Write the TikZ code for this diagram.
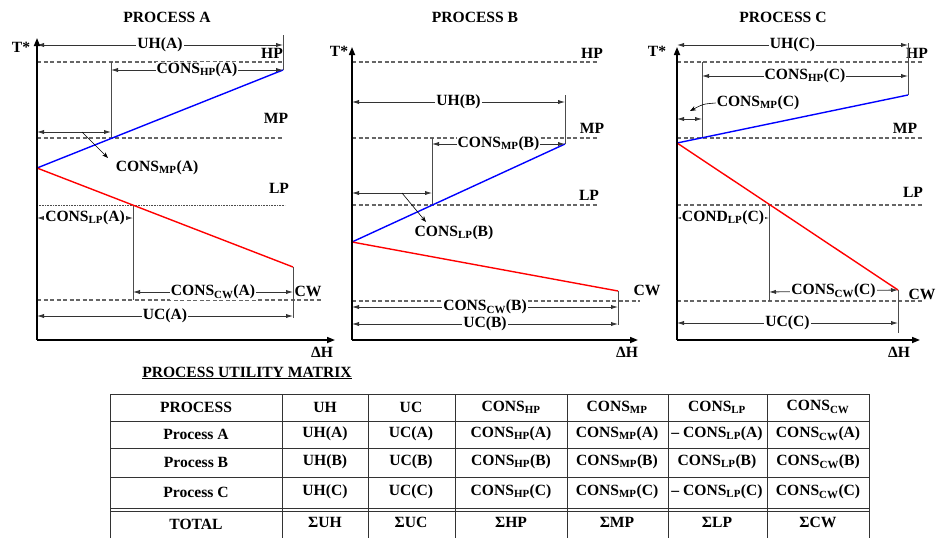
\documentclass[tikz,border=0pt]{standalone}
\usepackage{fontspec}
\setmainfont{Liberation Serif}
\usetikzlibrary{arrows.meta,positioning,calc}
\newcommand{\lv}[1]{\textsubscript{#1}}
\tikzset{
  tag/.style={font=\bfseries\fontsize{15.6}{17}\selectfont, inner sep=1pt},
  dimlabel/.style={tag, fill=white, inner sep=1pt},
  axisline/.style={-{Triangle[length=8pt,width=6pt]}, line width=1.6pt},
  levelline/.style={draw=black!60, line width=1.1pt, dash pattern=on 4pt off 2.5pt},
  lpline/.style={draw=black!70, line width=0.6pt, densely dotted},
  hotline/.style={draw=blue, line width=1.4pt},
  coldline/.style={draw=red, line width=1.4pt},
  guideline/.style={draw=black!70, line width=0.9pt},
  dimarrow/.style={{Latex[length=7pt,width=4.2pt]}-{Latex[length=7pt,width=4.2pt]}, draw=black!80, line width=0.8pt},
  pointer/.style={-{Stealth[length=6pt,width=4.5pt]}, line width=0.6pt},
  gridline/.style={draw=black!80, line width=0.7pt}
}

\begin{document}
\begin{tikzpicture}[x=1pt,y=-1pt]
  \useasboundingbox (0,0) rectangle (936,538);

  % ---- process A ----
  \node[tag] (titleA) at (167,17) {PROCESS A};
  \coordinate (a0) at (37,340);
  \coordinate (aTop) at (37,38);
  \coordinate (aEnd) at (335,340);
  \coordinate (aHot) at (283,70);
  \coordinate (aCold) at (293,267);
  \coordinate (aPinch) at (37,168);
  \draw[levelline] (37,62) coordinate (aHPl) -- (283,62) coordinate (aHPr);
  \draw[levelline] (37,138) coordinate (aMPl) -- (283,138) coordinate (aMPr);
  \draw[lpline] (37,205) coordinate (aLPl) -- (285,205) coordinate (aLPr);
  \draw[levelline] (37,300) coordinate (aCWl) -- (322,300) coordinate (aCWr);
  \node[tag] (aHP) at (272,53) {HP};
  \node[tag] (aMP) at (276,118) {MP};
  \node[tag] (aLP) at (279,188) {LP};
  \draw[guideline] (283,35) coordinate (aV1t) -- (aHot);
  \draw[guideline] (111,62) coordinate (aV2t) -- (111,138) coordinate (aV2b);
  \draw[guideline] (133,205) coordinate (aV3t) -- (133,300) coordinate (aV3b);
  \draw[guideline] (aCold) -- (293,318) coordinate (aV4b);
  \draw[hotline] (aPinch) -- (aHot);
  \draw[coldline] (aPinch) -- (aCold);
  \draw[dimarrow] (37,45) coordinate (aUHl) -- node[dimlabel] (aUH) {UH(A)} (283,45) coordinate (aUHr);
  \draw[dimarrow] (111,70) coordinate (aHPa) -- node[dimlabel] (aConsHP) {CONS\lv{HP}(A)} (aHot);
  \draw[dimarrow] (37,132) coordinate (aMPa) -- (111,132) coordinate (aMPb);
  \node[tag] (aConsMP) at (157,168) {CONS\lv{MP}(A)};
  \draw[pointer] (82,132) coordinate (aPt) -- (108,158) coordinate (aPtEnd);
  \draw[dimarrow] (37,218) coordinate (aLPa) -- node[dimlabel] (aConsLP) {CONS\lv{LP}(A)} (133,218) coordinate (aLPb);
  \draw[dimarrow] (133,292) coordinate (aCWa) -- node[dimlabel] (aConsCW) {CONS\lv{CW}(A)} (293,292) coordinate (aCWb);
  \node[tag, fill=white] (aCW) at (308,291) {CW};
  \draw[dimarrow] (37,316) coordinate (aUCl) -- node[dimlabel] (aUC) {UC(A)} (293,316) coordinate (aUCr);
  \draw[axisline] (a0) -- (aTop);
  \draw[axisline] (a0) -- (aEnd);
  \node[tag] (aTs) at (21,47) {T*};
  \node[tag] (aDH) at (322,352) {ΔH};

  % ---- process B ----
  \node[tag] (titleB) at (475,17) {PROCESS B};
  \coordinate (b0) at (352,340);
  \coordinate (bTop) at (352,47);
  \coordinate (bEnd) at (638,340);
  \coordinate (bHot) at (565,144);
  \coordinate (bCold) at (618,291);
  \coordinate (bPinch) at (352,242);
  \draw[levelline] (352,62) coordinate (bHPl) -- (598,62) coordinate (bHPr);
  \draw[levelline] (352,138) coordinate (bMPl) -- (598,138) coordinate (bMPr);
  \draw[levelline] (352,205) coordinate (bLPl) -- (598,205) coordinate (bLPr);
  \draw[levelline] (352,301) coordinate (bCWl) -- (640,301) coordinate (bCWr);
  \node[tag] (bHP) at (592,53) {HP};
  \node[tag] (bMP) at (592,128) {MP};
  \node[tag] (bLP) at (589,195) {LP};
  \node[tag] (bCW) at (647,290) {CW};
  \draw[guideline] (565,95) coordinate (bV1t) -- (bHot);
  \draw[guideline] (432,138) coordinate (bV2t) -- (432,205) coordinate (bV2b);
  \draw[guideline] (bCold) -- (618,325) coordinate (bV3b);
  \draw[hotline] (bPinch) -- (bHot);
  \draw[coldline] (bPinch) -- (bCold);
  \draw[dimarrow] (352,102) coordinate (bUHl) -- node[dimlabel] (bUH) {UH(B)} (565,102) coordinate (bUHr);
  \draw[dimarrow] (432,144) coordinate (bMPa) -- node[dimlabel] (bConsMP) {CONS\lv{MP}(B)} (bHot);
  \draw[dimarrow] (352,193) coordinate (bLPa) -- (432,193) coordinate (bLPb);
  \node[tag] (bConsLP) at (454,233) {CONS\lv{LP}(B)};
  \draw[pointer] (402,193) coordinate (bPt) -- (426,222) coordinate (bPtEnd);
  \draw[dimarrow] (352,307) coordinate (bCWa) -- node[dimlabel] (bConsCW) {CONS\lv{CW}(B)} (618,307) coordinate (bCWb);
  \draw[dimarrow] (352,324) coordinate (bUCl) -- node[dimlabel] (bUC) {UC(B)} (618,324) coordinate (bUCr);
  \draw[axisline] (b0) -- (bTop);
  \draw[axisline] (b0) -- (bEnd);
  \node[tag] (bTs) at (339,51) {T*};
  \node[tag] (bDH) at (627,352) {ΔH};

  % ---- process C ----
  \node[tag] (titleC) at (783,17) {PROCESS C};
  \coordinate (c0) at (677,340);
  \coordinate (cTop) at (677,47);
  \coordinate (cEnd) at (920,340);
  \coordinate (cHot) at (908,95);
  \coordinate (cCold) at (898,290);
  \coordinate (cPinch) at (677,143);
  \draw[levelline] (677,62) coordinate (cHPl) -- (922,62) coordinate (cHPr);
  \draw[levelline] (677,138) coordinate (cMPl) -- (922,138) coordinate (cMPr);
  \draw[levelline] (677,205) coordinate (cLPl) -- (922,205) coordinate (cLPr);
  \draw[levelline] (677,301) coordinate (cCWl) -- (922,301) coordinate (cCWr);
  \node[tag] (cHP) at (917,53) {HP};
  \node[tag] (cMP) at (905,128) {MP};
  \node[tag] (cLP) at (913,192) {LP};
  \node[tag] (cCW) at (922,294) {CW};
  \draw[guideline] (908,43) coordinate (cV1t) -- (cHot);
  \draw[guideline] (702,62) coordinate (cV2t) -- (702,138) coordinate (cV2b);
  \draw[guideline] (769,205) coordinate (cV3t) -- (769,301) coordinate (cV3b);
  \draw[guideline] (cCold) -- (898,333) coordinate (cV4b);
  \draw[hotline] (cPinch) -- (cHot);
  \draw[coldline] (cPinch) -- (cCold);
  \draw[dimarrow] (677,45) coordinate (cUHl) -- node[dimlabel] (cUH) {UH(C)} (908,45) coordinate (cUHr);
  \draw[dimarrow] (702,76) coordinate (cHPa) -- node[dimlabel] (cConsHP) {CONS\lv{HP}(C)} (908,76) coordinate (cHPb);
  \draw[dimarrow] (677,119) coordinate (cMPa) -- (702,119) coordinate (cMPb);
  \node[tag] (cConsMP) at (758,103) {CONS\lv{MP}(C)};
  \draw[pointer] (cConsMP.west) .. controls (703,104) .. (690,111) coordinate (cPtEnd);
  \draw[dimarrow] (677,218) coordinate (cLPa) -- node[dimlabel] (cCondLP) {COND\lv{LP}(C)} (769,218) coordinate (cLPb);
  \draw[dimarrow] (769,292) coordinate (cCWa) -- node[dimlabel] (cConsCW) {CONS\lv{CW}(C)} (cCold);
  \draw[dimarrow] (677,323) coordinate (cUCl) -- node[dimlabel] (cUC) {UC(C)} (898,323) coordinate (cUCr);
  \draw[axisline] (c0) -- (cTop);
  \draw[axisline] (c0) -- (cEnd);
  \node[tag] (cTs) at (657,51) {T*};
  \node[tag] (cDH) at (899,352) {ΔH};

  % ---- utility matrix ----
  \node[tag] (matTitle) at (247,373) {\underline{PROCESS UTILITY MATRIX}};
  \draw[gridline] (110,538) -- (110,394) -- (869,394) -- (869,538);
  \foreach \xc in {282,368,455,567,668,767}
    \draw[gridline] (\xc,394) -- (\xc,538);
  \foreach \yr in {421,448,477,508,511}
    \draw[gridline] (110,\yr) -- (869,\yr);
  % header
  \node[tag] (hProc) at (196,407) {PROCESS};
  \node[tag] (hUH) at (325,407) {UH};
  \node[tag] (hUC) at (411,407) {UC};
  \node[tag] (hHP) at (511,407) {CONS\lv{HP}};
  \node[tag] (hMP) at (617,407) {CONS\lv{MP}};
  \node[tag] (hLP) at (717,407) {CONS\lv{LP}};
  \node[tag] (hCW) at (818,407) {CONS\lv{CW}};
  % rows
  \node[tag] (rA) at (196,434) {Process A};
  \node[tag] (rAUH) at (325,434) {UH(A)};
  \node[tag] (rAUC) at (411,434) {UC(A)};
  \node[tag] (rAHP) at (511,434) {CONS\lv{HP}(A)};
  \node[tag] (rAMP) at (617,434) {CONS\lv{MP}(A)};
  \node[tag] (rALP) at (717,434) {-- CONS\lv{LP}(A)};
  \node[tag] (rACW) at (818,434) {CONS\lv{CW}(A)};
  \node[tag] (rB) at (196,462) {Process B};
  \node[tag] (rBUH) at (325,462) {UH(B)};
  \node[tag] (rBUC) at (411,462) {UC(B)};
  \node[tag] (rBHP) at (511,462) {CONS\lv{HP}(B)};
  \node[tag] (rBMP) at (617,462) {CONS\lv{MP}(B)};
  \node[tag] (rBLP) at (717,462) {CONS\lv{LP}(B)};
  \node[tag] (rBCW) at (818,462) {CONS\lv{CW}(B)};
  \node[tag] (rC) at (196,492) {Process C};
  \node[tag] (rCUH) at (325,492) {UH(C)};
  \node[tag] (rCUC) at (411,492) {UC(C)};
  \node[tag] (rCHP) at (511,492) {CONS\lv{HP}(C)};
  \node[tag] (rCMP) at (617,492) {CONS\lv{MP}(C)};
  \node[tag] (rCLP) at (717,492) {-- CONS\lv{LP}(C)};
  \node[tag] (rCCW) at (818,492) {CONS\lv{CW}(C)};
  \node[tag] (rT) at (196,524) {TOTAL};
  \node[tag] (rTUH) at (325,522) {ΣUH};
  \node[tag] (rTUC) at (411,522) {ΣUC};
  \node[tag] (rTHP) at (511,522) {ΣHP};
  \node[tag] (rTMP) at (617,522) {ΣMP};
  \node[tag] (rTLP) at (717,522) {ΣLP};
  \node[tag] (rTCW) at (818,522) {ΣCW};
\end{tikzpicture}
\end{document}
